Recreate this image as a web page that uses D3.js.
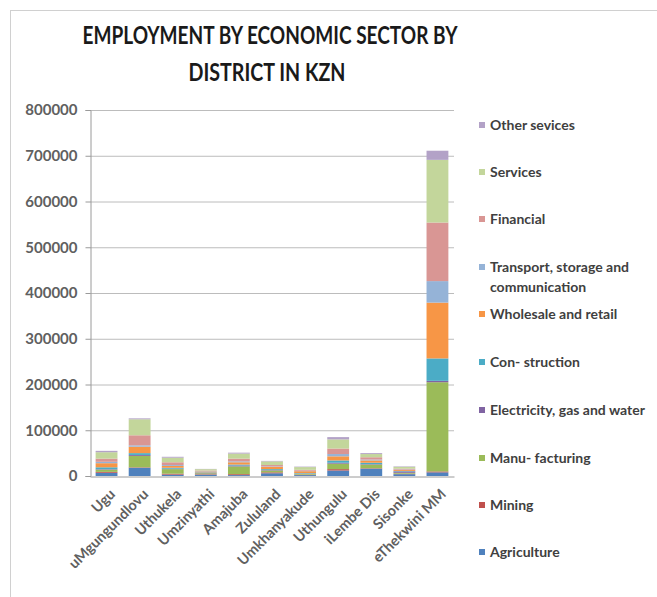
<!DOCTYPE html>
<html>
<head>
<meta charset="utf-8">
<script src="https://cdn.jsdelivr.net/npm/d3@7"></script>
<style>
  body { margin: 0; background: #fff; }
  text { font-family: Lato, "Open Sans", sans-serif; }
</style>
</head>
<body>
<div id="chart"></div>
<script>
// districts along the x axis
const districts = ["Ugu", "uMgungundlovu", "Uthukela", "Umzinyathi", "Amajuba", "Zululand",
  "Umkhanyakude", "Uthungulu", "iLembe Dis", "Sisonke", "eThekwini MM"];

// employment per sector, same order as districts
const agriculture   = [7000, 18000, 3000, 3000, 2000, 6000, 2000, 12000, 16000, 4000, 8000];
const mining        = [2000, 1000, 2000, 1000, 2000, 2000, 1000, 3000, 1000, 1000, 2000];
const manufacturing = [5000, 25000, 10000, 2000, 17000, 4000, 2000, 12000, 8000, 2000, 195000];
const electricity   = [1000, 2000, 1000, 1000, 2000, 1000, 500, 2000, 1000, 3000, 3000];
const construction  = [4000, 4000, 2000, 1000, 2000, 2000, 1000, 5000, 3000, 1000, 49000];
const wholesale     = [9000, 14000, 4000, 2000, 5000, 5000, 4000, 9000, 5000, 2000, 122000];
const transport     = [3000, 3000, 2000, 1000, 2000, 1000, 1000, 5000, 2000, 1000, 47000];
const financial     = [7000, 22000, 6000, 1000, 6000, 3000, 2000, 12000, 5000, 2000, 128000];
const services      = [14000, 35000, 10000, 3000, 11000, 8000, 6000, 20000, 7000, 4000, 137000];
const other         = [3000, 2000, 2000, 500, 2000, 1000, 1000, 5000, 2000, 1000, 20000];

const sectorNames = ["Agriculture", "Mining", "Manu- facturing", "Electricity, gas and water",
  "Con- struction", "Wholesale and retail", "Transport, storage and communication",
  "Financial", "Services", "Other sevices"];
const sectorValues = [agriculture, mining, manufacturing, electricity, construction,
  wholesale, transport, financial, services, other];
const sectorColors = ["#4f81bd", "#c0504d", "#9bbb59", "#8064a2", "#4bacc6",
  "#f79646", "#95b3d7", "#d99694", "#c3d69b", "#b3a2c7"];

const yTicks = [0, 100000, 200000, 300000, 400000, 500000, 600000, 700000, 800000];

const width = 657, height = 597;
const plotLeft = 90, plotRight = 454, plotTop = 110, plotBottom = 476;

const svg = d3.select("#chart").append("svg")
  .attr("width", width)
  .attr("height", height);

// frame
svg.append("rect")
  .attr("x", 10.5).attr("y", 10.5)
  .attr("width", 660).attr("height", 600)
  .attr("fill", "#fff")
  .attr("stroke", "#d0d0d0");

// title
const title = svg.append("text")
  .attr("text-anchor", "middle")
  .attr("font-size", 25)
  .attr("font-weight", "bold")
  .attr("fill", "#1a1a1a");
title.append("tspan").attr("x", 270).attr("y", 44)
  .attr("textLength", 375).attr("lengthAdjust", "spacingAndGlyphs")
  .text("EMPLOYMENT BY ECONOMIC SECTOR BY");
title.append("tspan").attr("x", 267).attr("y", 81)
  .attr("textLength", 157).attr("lengthAdjust", "spacingAndGlyphs")
  .text("DISTRICT IN KZN");

// build table for stacking
const table = districts.map((d, i) => {
  const row = { district: d };
  sectorNames.forEach((s, k) => { row[s] = sectorValues[k][i]; });
  return row;
});
const stack = d3.stack().keys(sectorNames)(table);

const x = d3.scaleBand().domain(districts).range([plotLeft, plotRight]).paddingInner(0.34).paddingOuter(0.17);
const y = d3.scaleLinear().domain([0, 800000]).range([plotBottom, plotTop]);
const color = d3.scaleOrdinal(sectorNames, sectorColors);

// gridlines
svg.append("g")
  .selectAll("line")
  .data(yTicks.slice(1))
  .join("line")
  .attr("x1", plotLeft).attr("x2", plotRight)
  .attr("y1", d => y(d) + 0.5).attr("y2", d => y(d) + 0.5)
  .attr("stroke", "#bcbcbc");

// y axis
const yAxis = svg.append("g")
  .attr("transform", `translate(${plotLeft + 0.5},0)`)
  .call(d3.axisLeft(y).tickValues(yTicks).tickFormat(d3.format("d")).tickSize(5).tickPadding(8));
yAxis.select(".domain").attr("stroke", "#9a9a9a");
yAxis.selectAll(".tick line").attr("stroke", "#9a9a9a");
yAxis.selectAll(".tick text")
  .attr("font-family", "Lato, sans-serif")
  .attr("font-size", 15)
  .attr("font-weight", "bold")
  .attr("fill", "#606060");

// bars
svg.append("g")
  .selectAll("g")
  .data(stack)
  .join("g")
  .attr("fill", d => color(d.key))
  .selectAll("rect")
  .data(d => d)
  .join("rect")
  .attr("x", d => x(d.data.district))
  .attr("y", d => y(d[1]))
  .attr("height", d => y(d[0]) - y(d[1]))
  .attr("width", x.bandwidth());

// x axis
const xAxis = svg.append("g")
  .attr("transform", `translate(0,${plotBottom + 0.5})`)
  .call(d3.axisBottom(x).tickSize(0).tickPadding(0));
xAxis.select(".domain").attr("stroke", "#9a9a9a");
xAxis.selectAll(".tick text")
  .attr("font-family", "Lato, sans-serif")
  .attr("font-size", 14.5)
  .attr("font-weight", "bold")
  .attr("fill", "#606060")
  .attr("text-anchor", "end")
  .attr("dy", "0.35em")
  .attr("transform", "translate(6,15) rotate(-45)");

// legend (reverse order, top = Other sevices)
const legend = svg.append("g");
const legendY = [125, 172, 219, 267, 314, 362, 410, 458, 505, 552];
const legendItems = sectorNames.slice().reverse();
legendItems.forEach((name, i) => {
  const g = legend.append("g").attr("transform", `translate(479,${legendY[i]})`);
  g.append("rect")
    .attr("x", 0).attr("y", -3)
    .attr("width", 6).attr("height", 6)
    .attr("fill", color(name));
  const t = g.append("text")
    .attr("x", 11)
    .attr("dy", "0.35em")
    .attr("font-size", 14)
    .attr("font-weight", "bold")
    .attr("fill", "#404040");
  if (name.startsWith("Transport")) {
    t.append("tspan").attr("x", 11).text("Transport, storage and");
    t.append("tspan").attr("x", 11).attr("dy", 20).text("communication");
  } else {
    t.text(name);
  }
});
</script>
</body>
</html>
